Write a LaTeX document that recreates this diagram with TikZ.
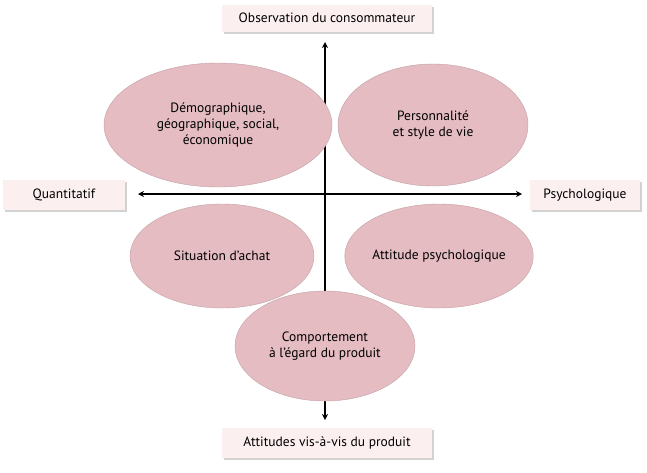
\documentclass[tikz,border=0pt]{standalone}
\usepackage{fontspec}
\setmainfont{PT Sans}
\usetikzlibrary{shadows,shapes.geometric,arrows.meta}
\begin{document}
\begin{tikzpicture}[x=1pt,y=-1pt,
  ell/.style={ellipse,fill=ellfill,draw=ellfill!85!black,line width=0.4pt,align=center,inner sep=0pt,font=\fontsize{13.5}{16}\selectfont},
  lab/.style={rectangle,fill=labfill,align=center,font=\fontsize{13.5}{16}\selectfont,inner sep=0pt,
     drop shadow={shadow xshift=2pt,shadow yshift=-2pt,fill=gray!70}},
  ax/.style={line width=1.1pt,-{Stealth[length=6pt,width=6pt]}}]
\useasboundingbox (0,0) rectangle (647,472);
\fill[white] (0,0) rectangle (647,472);
\definecolor{ellfill}{HTML}{E4BCC2}
\definecolor{labfill}{HTML}{FBEFF0}
\node[lab,minimum width=210pt,minimum height=27pt] (top) at (327,18) {Observation du consommateur};
\node[lab,minimum width=122pt,minimum height=30pt] (left) at (64,195) {Quantitatif};
\node[lab,minimum width=110pt,minimum height=30pt] (right) at (585,195) {Psychologique};
\node[lab,minimum width=210pt,minimum height=30pt] (bot) at (327,443) {Attitudes vis-à-vis du produit};
\coordinate (c) at (325,194);
\coordinate (n) at (325,42);
\coordinate (s) at (325,420);
\coordinate (w) at (138,194);
\coordinate (e) at (522,194);
\draw[ax] (c) -- (n);
\draw[ax] (c) -- (s);
\draw[ax] (c) -- (w);
\draw[ax] (c) -- (e);
\node[ell,minimum width=228pt,minimum height=124pt] (e1) at (218,125) {Démographique,\\géographique, social,\\économique};
\node[ell,minimum width=190pt,minimum height=122pt] (e2) at (433,125) {Personnalité\\et style de vie};
\node[ell,minimum width=184pt,minimum height=104pt] (e3) at (222,256) {Situation d'achat};
\node[ell,minimum width=184pt,minimum height=104pt] (e4) at (439,256) {Attitude psychologique};
\node[ell,minimum width=180pt,minimum height=110pt] (e5) at (325,346) {Comportement\\à l'égard du produit};
\end{tikzpicture}
\end{document}
